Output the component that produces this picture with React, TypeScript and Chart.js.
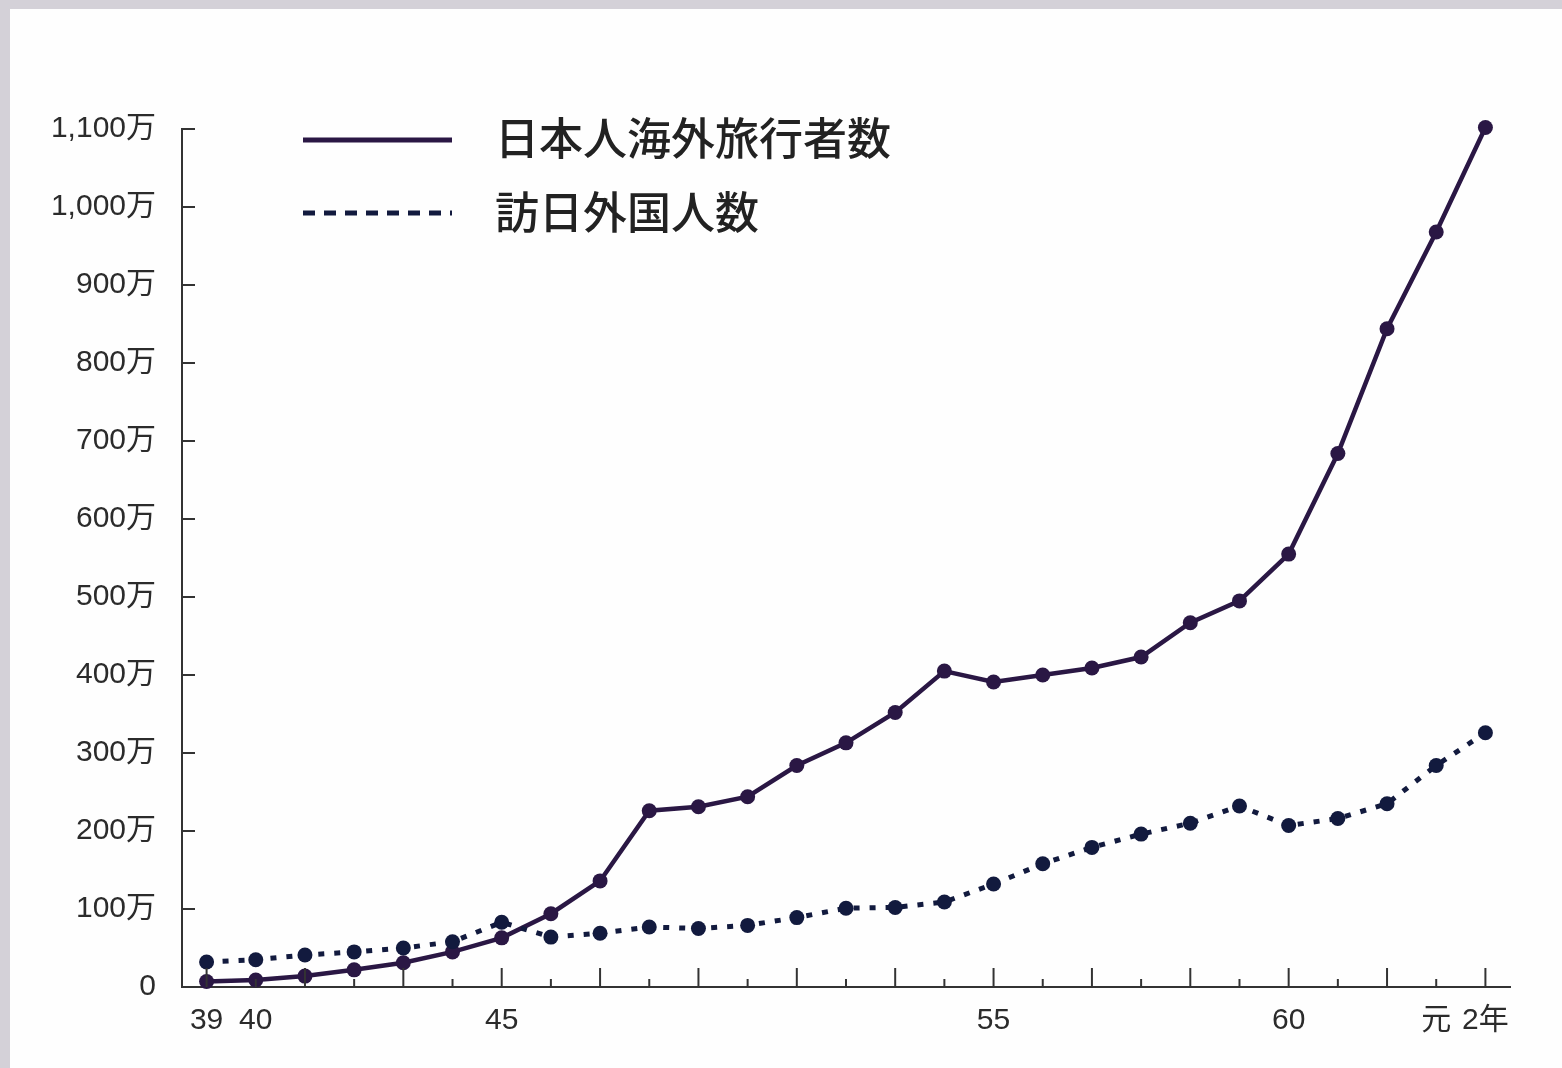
import React, { useEffect, useRef } from "react";
import { Chart, registerables } from "chart.js";

Chart.register(...registerables);

const categories = ["39","40","41","42","43","44","45","46","47","48","49","50","51","52","53","54","55","56","57","58","59","60","61","62","63","元","2"];
const xTickLabels = ["39","40","","","","","45","","","","","","","","","","55","","","","","","60","","","元","2年"];
const japaneseOutbound = [7, 9, 14, 22, 31, 45, 63, 94, 136, 226, 231, 244, 284, 313, 352, 405, 391, 400, 409, 423, 467, 495, 555, 684, 844, 968, 1102];
const foreignVisitors = [32, 35, 41, 45, 50, 58, 83, 64, 69, 77, 75, 79, 89, 101, 102, 109, 132, 158, 179, 196, 210, 232, 207, 216, 235, 284, 326];
const yTickLabels: Record<number, string> = {0:"0",100:"100万",200:"200万",300:"300万",400:"400万",500:"500万",600:"600万",700:"700万",800:"800万",900:"900万",1000:"1,000万",1100:"1,100万"};
const seriesNames = ["日本人海外旅行者数", "訪日外国人数"];

const FONT = '"Liberation Sans", "Noto Sans CJK JP", sans-serif';
const SOLID = "#2a1744";
const DOTTED = "#121a3e";
const TEXT = "#2b2b2b";

export default function App() {
  const ref = useRef<HTMLCanvasElement>(null);
  useEffect(() => {
    document.body.style.margin = "0";
    const bgPlugin = {
      id: "bg",
      beforeDraw(chart: any) {
        const ctx = chart.ctx;
        ctx.save();
        ctx.fillStyle = "#d4d1d8";
        ctx.fillRect(0, 0, chart.width, chart.height);
        ctx.fillStyle = "#fefefe";
        ctx.fillRect(10, 9, chart.width - 10, chart.height - 9);
        ctx.restore();
      },
    };
    const decoPlugin = {
      id: "deco",
      afterDatasetsDraw(chart: any) {
        const ctx = chart.ctx;
        const xs = chart.scales.x;
        const ys = chart.scales.y;
        const area = chart.chartArea;
        ctx.save();
        ctx.strokeStyle = "#333";
        ctx.lineWidth = 2;
        categories.forEach((_, i) => {
          const x = xs.getPixelForValue(i);
          const len = i % 2 === 0 ? 19 : 8;
          ctx.beginPath();
          ctx.moveTo(x, area.bottom);
          ctx.lineTo(x, area.bottom - len);
          ctx.stroke();
        });
        Object.keys(yTickLabels).forEach((k) => {
          const v = Number(k);
          if (v === 0) return;
          const y = ys.getPixelForValue(v);
          ctx.beginPath();
          ctx.moveTo(area.left, y);
          ctx.lineTo(area.left + 13, y);
          ctx.stroke();
        });
        // legend
        const lx0 = 303, lx1 = 452;
        ctx.lineWidth = 5;
        ctx.strokeStyle = SOLID;
        ctx.beginPath();
        ctx.moveTo(lx0, 140);
        ctx.lineTo(lx1, 140);
        ctx.stroke();
        ctx.strokeStyle = DOTTED;
        ctx.setLineDash([12, 9]);
        ctx.beginPath();
        ctx.moveTo(lx0, 213);
        ctx.lineTo(lx1, 213);
        ctx.stroke();
        ctx.setLineDash([]);
        ctx.fillStyle = "#222";
        ctx.font = '500 44px "Noto Sans CJK JP", sans-serif';
        ctx.textBaseline = "middle";
        ctx.textAlign = "left";
        ctx.fillText(seriesNames[0], 495, 138);
        ctx.fillText(seriesNames[1], 495, 212);
        ctx.restore();
      },
    };
    const chart = new Chart(ref.current!, {
      type: "line",
      data: {
        labels: categories,
        datasets: [
          {
            label: seriesNames[1],
            data: foreignVisitors,
            borderColor: DOTTED,
            backgroundColor: DOTTED,
            borderWidth: 5,
            borderDash: [6, 10],
            pointRadius: 7.5,
            pointBorderWidth: 0,
            pointBackgroundColor: DOTTED,
            tension: 0,
            clip: false,
          },
          {
            label: seriesNames[0],
            data: japaneseOutbound,
            borderColor: SOLID,
            backgroundColor: SOLID,
            borderWidth: 4.5,
            pointRadius: 7.5,
            pointBorderWidth: 0,
            pointBackgroundColor: SOLID,
            tension: 0,
            clip: false,
          },
        ],
      },
      options: {
        animation: false,
        responsive: false,
        layout: { padding: { top: 129, right: 52, bottom: 13, left: 0 } },
        plugins: { legend: { display: false }, tooltip: { enabled: false } },
        scales: {
          x: {
            type: "category",
            offset: true,
            grid: { display: false, drawTicks: false },
            border: { display: true, color: "#333", width: 2 },
            ticks: {
              autoSkip: false,
              maxRotation: 0,
              padding: 16,
              color: TEXT,
              font: { family: FONT, size: 30 },
              callback: (_v: any, i: number) => xTickLabels[i],
            },
          },
          y: {
            min: 0,
            max: 1100,
            afterFit: (s: any) => { s.width = 182; },
            grid: { display: false, drawTicks: false },
            border: { display: true, color: "#333", width: 2 },
            ticks: {
              stepSize: 100,
              padding: 26,
              color: TEXT,
              font: { family: FONT, size: 30 },
              callback: (v: any) => yTickLabels[Number(v)] ?? "",
            },
          },
        },
      },
      plugins: [bgPlugin, decoPlugin],
    });
    return () => chart.destroy();
  }, []);
  return (
    <div style={{ position: "absolute", left: 0, top: 0, width: 1562, height: 1068 }}>
      <canvas ref={ref} width={1562} height={1068} style={{ display: "block" }} />
    </div>
  );
}
